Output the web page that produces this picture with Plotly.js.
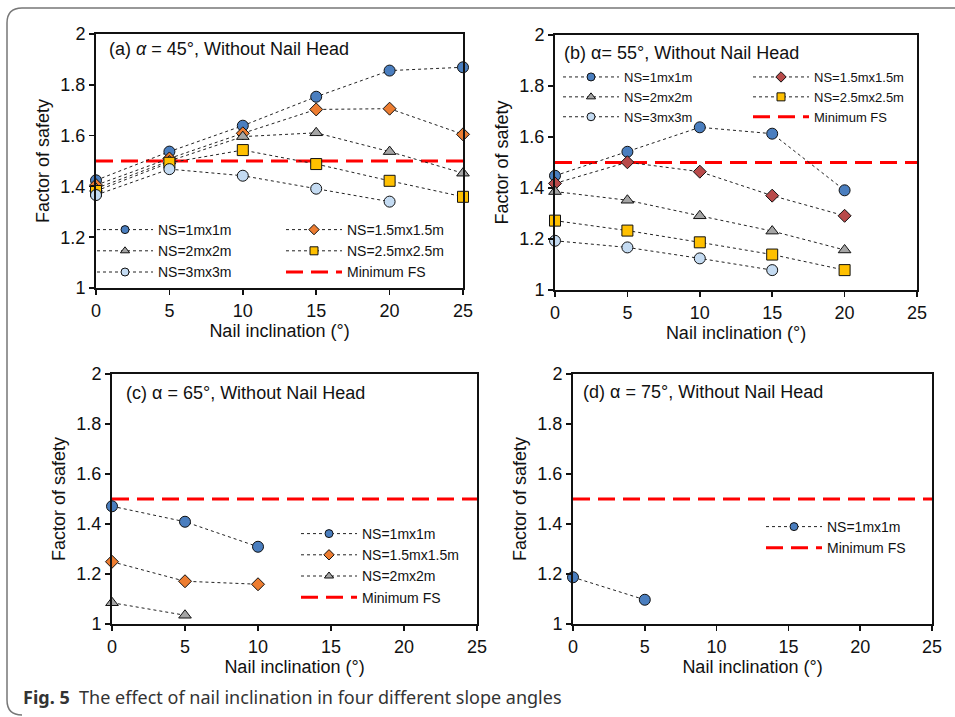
<!DOCTYPE html>
<html><head><meta charset="utf-8">
<script src="https://cdn.plot.ly/plotly-3.0.1.min.js"></script>
<style>html,body{margin:0;padding:0;background:#fff}</style>
</head><body><div id="chart" style="width:955px;height:717px"></div>
<script>
// ---- data ----
const inclination = [0, 5, 10, 15, 20, 25];
const minFSx = [0, 25];
const minFSy = [1.5, 1.5];
const seriesNames = ["NS=1mx1m", "NS=1.5mx1.5m", "NS=2mx2m", "NS=2.5mx2.5m", "NS=3mx3m", "Minimum FS"];
const panelLabels = ["(a) <i>α</i> = 45°, Without Nail Head", "(b) α= 55°, Without Nail Head",
                     "(c) α = 65°, Without Nail Head", "(d) α = 75°, Without Nail Head"];
const xTitle = "Nail inclination (°)";
const yTitle = "Factor of safety";
const caption = "<b>Fig. 5</b>  The effect of nail inclination in four different slope angles";

// (a) alpha = 45
const a_ns1  = [1.424, 1.537, 1.639, 1.753, 1.856, 1.869];
const a_ns15 = [1.405, 1.510, 1.609, 1.703, 1.706, 1.605];
const a_ns2  = [1.392, 1.500, 1.596, 1.611, 1.537, 1.452];
const a_ns25 = [1.382, 1.493, 1.543, 1.488, 1.422, 1.359];
const a_ns3  = [1.366, 1.468, 1.442, 1.391, 1.340];
// (b) alpha = 55
const b_ns1  = [1.448, 1.542, 1.638, 1.613, 1.391];
const b_ns15 = [1.418, 1.501, 1.464, 1.370, 1.291];
const b_ns2  = [1.386, 1.352, 1.291, 1.231, 1.157];
const b_ns25 = [1.272, 1.233, 1.187, 1.139, 1.078];
const b_ns3  = [1.193, 1.167, 1.124, 1.078];
// (c) alpha = 65
const c_ns1  = [1.471, 1.409, 1.309];
const c_ns15 = [1.249, 1.171, 1.159];
const c_ns2  = [1.085, 1.035];
// (d) alpha = 75
const d_ns1  = [1.187, 1.097];

// ---- styles ----
const FONT = '"Liberation Sans", Arial, sans-serif';
const sty = {
  ns1:  {symbol: 'circle', color: '#4a7ebf', size: 11, lsize: 8},
  ns15: {symbol: 'diamond', color: '#ed7d31', size: 10, lsize: 8},
  ns15b:{symbol: 'diamond', color: '#b84a4a', size: 10, lsize: 8},
  ns2:  {symbol: 'triangle-up', color: '#a5a5a5', size: 11, lsize: 8},
  ns25: {symbol: 'square', color: '#ffc000', size: 11, lsize: 8},
  ns3:  {symbol: 'circle', color: '#c4dbf2', size: 11, lsize: 8}
};
const dataLine = {color: '#222', width: 1, dash: '3px,3px'};

const traces = [];
function addSeries(name, y, s, ax, leg) {
  const x = inclination.slice(0, y.length);
  traces.push({type: 'scatter', mode: 'lines+markers', name: name, x: x, y: y,
    xaxis: 'x' + ax, yaxis: 'y' + ax, showlegend: false, cliponaxis: false,
    line: dataLine,
    marker: {symbol: s.symbol, color: s.color, size: s.size, line: {color: '#111', width: 1}}});
  // legend entry (no data)
  traces.push({type: 'scatter', mode: 'lines+markers', name: name, x: [null], y: [null],
    xaxis: 'x' + ax, yaxis: 'y' + ax, showlegend: true, legend: leg, hoverinfo: 'skip',
    line: dataLine,
    marker: {symbol: s.symbol, color: s.color, size: s.lsize, line: {color: '#111', width: 1}}});
}
function addMin(ax, leg) {
  traces.push({type: 'scatter', mode: 'lines', name: seriesNames[5], x: minFSx, y: minFSy,
    xaxis: 'x' + ax, yaxis: 'y' + ax, legend: leg, cliponaxis: false,
    line: {color: '#ff0000', width: 3, dash: '17px,8px'}});
}
// (a)
addMin('', 'legend2');
addSeries(seriesNames[0], a_ns1, sty.ns1, '', 'legend');
addSeries(seriesNames[1], a_ns15, sty.ns15, '', 'legend2');
addSeries(seriesNames[2], a_ns2, sty.ns2, '', 'legend');
addSeries(seriesNames[3], a_ns25, sty.ns25, '', 'legend2');
addSeries(seriesNames[4], a_ns3, sty.ns3, '', 'legend');
// (b)
addMin('2', 'legend4');
addSeries(seriesNames[0], b_ns1, sty.ns1, '2', 'legend3');
addSeries(seriesNames[1], b_ns15, sty.ns15b, '2', 'legend4');
addSeries(seriesNames[2], b_ns2, sty.ns2, '2', 'legend3');
addSeries(seriesNames[3], b_ns25, sty.ns25, '2', 'legend4');
addSeries(seriesNames[4], b_ns3, sty.ns3, '2', 'legend3');
// (c)
addMin('3', 'legend5');
addSeries(seriesNames[0], c_ns1, sty.ns1, '3', 'legend5');
addSeries(seriesNames[1], c_ns15, sty.ns15, '3', 'legend5');
addSeries(seriesNames[2], c_ns2, sty.ns2, '3', 'legend5');
// (d)
addMin('4', 'legend6');
addSeries(seriesNames[0], d_ns1, sty.ns1, '4', 'legend6');

// legend order: Minimum FS last
traces.forEach(t => { t.legendrank = (t.name === 'Minimum FS') ? 2000 : 1000; });

const W = 955, H = 717;
const px = v => v / W, py = v => 1 - v / H;

function xax(x0, x1, anchor) {
  return {domain: [px(x0), px(x1)], anchor: anchor, range: [0, 25], dtick: 5, tick0: 0,
    showline: true, mirror: true, linecolor: '#111', linewidth: 2, ticks: 'outside', ticklen: 5,
    tickwidth: 1.5, tickcolor: '#111', showgrid: false, zeroline: false, fixedrange: true,
    tickfont: {family: FONT, size: 18, color: '#111'},
    title: {text: xTitle, font: {family: FONT, size: 18, color: '#111'}, standoff: 0}};
}
function yax(y0, y1, anchor) {
  return {domain: [py(y1), py(y0)], anchor: anchor, range: [1, 2], dtick: 0.2, tick0: 1,
    showline: true, mirror: true, linecolor: '#111', linewidth: 2, ticks: 'outside', ticklen: 5,
    tickwidth: 1.5, tickcolor: '#111', showgrid: false, zeroline: false, fixedrange: true,
    tickfont: {family: FONT, size: 18, color: '#111'},
    title: {text: yTitle, font: {family: FONT, size: 18, color: '#111'}, standoff: 6}};
}

function leg(x, y, fs) {
  return {x: px(x), y: py(y), xanchor: 'left', yanchor: 'top', orientation: 'v',
    bgcolor: 'rgba(0,0,0,0)', borderwidth: 0, itemwidth: 56, traceorder: 'normal',
    font: {family: FONT, size: fs || 14, color: '#111'}, itemclick: false, itemdoubleclick: false};
}

const layout = {
  width: W, height: H, margin: {l: 0, r: 0, t: 0, b: 0}, paper_bgcolor: '#fff', plot_bgcolor: '#fff',
  font: {family: FONT, color: '#111'}, showlegend: true,
  xaxis: xax(96, 463, 'y'),   yaxis: yax(34, 288, 'x'),
  xaxis2: xax(555, 917, 'y2'), yaxis2: yax(35, 290, 'x2'),
  xaxis3: xax(112, 477, 'y3'), yaxis3: yax(374, 624, 'x3'),
  xaxis4: xax(573, 932, 'y4'), yaxis4: yax(374, 624, 'x4'),
  legend: leg(92, 214), legend2: leg(281, 214),
  legend3: leg(558, 62, 13), legend4: leg(748, 62, 13),
  legend5: leg(296, 518), legend6: leg(761, 511),
  annotations: [
    {xref: 'paper', yref: 'paper', x: px(107), y: py(49), xanchor: 'left', yanchor: 'middle', showarrow: false,
     text: panelLabels[0], font: {family: FONT, size: 18, color: '#111'}},
    {xref: 'paper', yref: 'paper', x: px(562), y: py(53), xanchor: 'left', yanchor: 'middle', showarrow: false,
     text: panelLabels[1], font: {family: FONT, size: 18, color: '#111'}},
    {xref: 'paper', yref: 'paper', x: px(124), y: py(393), xanchor: 'left', yanchor: 'middle', showarrow: false,
     text: panelLabels[2], font: {family: FONT, size: 18, color: '#111'}},
    {xref: 'paper', yref: 'paper', x: px(581), y: py(392), xanchor: 'left', yanchor: 'middle', showarrow: false,
     text: panelLabels[3], font: {family: FONT, size: 18, color: '#111'}},
    {xref: 'paper', yref: 'paper', x: px(21), y: py(697), xanchor: 'left', yanchor: 'middle', showarrow: false,
     text: caption, font: {family: '"Noto Sans", "Open Sans", sans-serif', size: 18, color: '#333'}}
  ],
  shapes: [
    {type: 'path', xref: 'paper', yref: 'paper', line: {color: '#777', width: 1.5},
     path: 'M ' + px(1000) + ' ' + py(8) + ' L ' + px(22) + ' ' + py(8) +
           ' Q ' + px(7) + ' ' + py(8) + ' ' + px(7) + ' ' + py(23) +
           ' L ' + px(7) + ' ' + py(700) + ' Q ' + px(7) + ' ' + py(715) + ' ' + px(22) + ' ' + py(715)}
  ]
};

Plotly.newPlot('chart', traces, layout, {displayModeBar: false, staticPlot: true});
</script></body></html>
